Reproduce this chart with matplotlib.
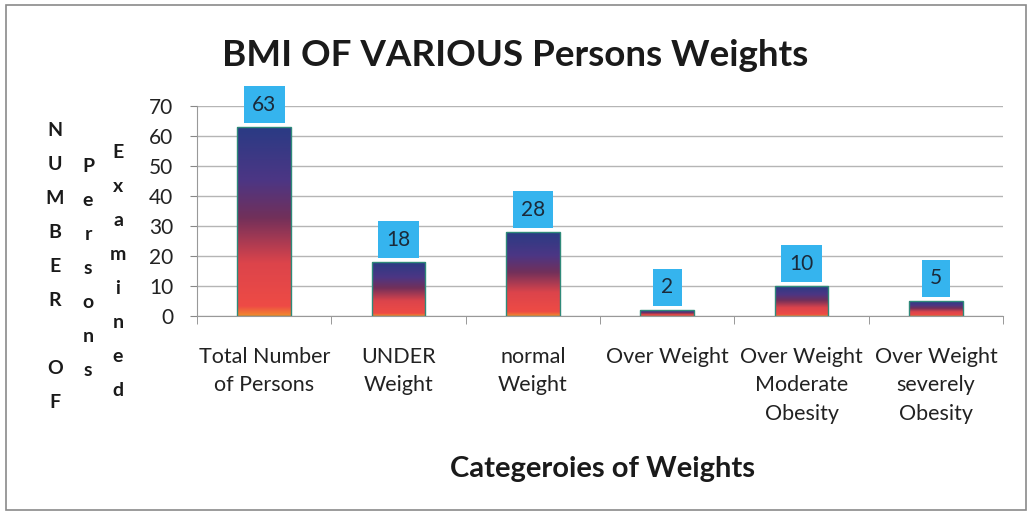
import matplotlib
matplotlib.use("Agg")
import matplotlib.pyplot as plt
import numpy as np
from matplotlib.colors import LinearSegmentedColormap
from matplotlib.patches import Rectangle

categories = ["Total Number\nof Persons", "UNDER\nWeight", "normal\nWeight",
              "Over Weight", "Over Weight\nModerate\nObesity", "Over Weight\nseverely\nObesity"]
values = [63, 18, 28, 2, 10, 5]
yticks = [0, 10, 20, 30, 40, 50, 60, 70]

plt.rcParams['font.family'] = ['Lato', 'DejaVu Sans']

fig = plt.figure(figsize=(10.32, 5.18), dpi=100)
ax = fig.add_axes([0.191, 0.390, 0.781, 0.405])

x = np.arange(len(values))
bars = ax.bar(x, values, width=0.40, color='none', edgecolor='#2f8a7a', linewidth=1.0, zorder=3)

cmap = LinearSegmentedColormap.from_list('g', [
    (0.0, '#f28a2e'), (0.05, '#ee4b45'), (0.28, '#dc444b'),
    (0.52, '#72305a'), (0.72, '#4c3684'), (1.0, '#2a3b84')])
grad = np.linspace(0, 1, 256).reshape(-1, 1)
for b in bars:
    x0, y0 = b.get_x(), b.get_y()
    w, h = b.get_width(), b.get_height()
    im = ax.imshow(grad, cmap=cmap, origin='lower', aspect='auto',
                   extent=[x0, x0 + w, y0, y0 + h], zorder=2)
    im.set_clip_path(b)

for xi, v in zip(x, values):
    ax.annotate(str(v), (xi, v), xytext=(0, 9), textcoords='offset points',
                ha='center', va='bottom', fontsize=15, color='#1b2a3a',
                bbox=dict(boxstyle='square,pad=0.4', fc='#35b4ee', ec='none'), zorder=4)

ax.set_xlim(-0.5, len(values) - 0.5)
ax.set_ylim(0, 70)
ax.set_yticks(yticks)
ax.set_yticklabels([str(t) for t in yticks], fontsize=15, color='#222222')
ax.set_xticks(x)
ax.set_xticklabels(categories, fontsize=15.5, color='#222222', linespacing=1.55)
ax.tick_params(axis='x', length=0, pad=22)
ax.set_xticks(np.arange(-0.5, len(values)), minor=True)
ax.tick_params(axis='x', which='minor', length=6, color='#888888', direction='out')
ax.tick_params(axis='y', length=5, color='#888888', direction='out', pad=12)
ax.grid(axis='y', color='#b5b5b5', linewidth=1.0, zorder=0)
ax.set_axisbelow(True)
for s in ['top', 'right']:
    ax.spines[s].set_visible(False)
ax.spines['left'].set_color('#999999')
ax.spines['bottom'].set_color('#999999')

fig.text(0.499, 0.893, "BMI OF VARIOUS Persons Weights", ha='center', va='center',
         fontsize=26.5, fontweight='bold', color='#1a1a1a')
fig.text(0.584, 0.095, "Categeroies of Weights", ha='center', va='center',
         fontsize=21, fontweight='bold', color='#1a1a1a')

H = 518.0
cols = [("NUMBER OF", 55, 131), ("Persons", 88, 167), ("Examined", 118, 152)]
for word, px, py in cols:
    for i, ch in enumerate(word):
        if ch == ' ':
            continue
        fig.text(px / 1032.0, 1 - (py + i * 34) / H, ch, ha='center', va='center',
                 fontsize=14, fontweight='bold', color='#1a1a1a')

fig.patches.append(Rectangle((0.006, 0.015), 0.988, 0.975, transform=fig.transFigure,
                             fill=False, ec='#8a8a8a', lw=1.2))

fig.savefig("out.png", dpi=100)
